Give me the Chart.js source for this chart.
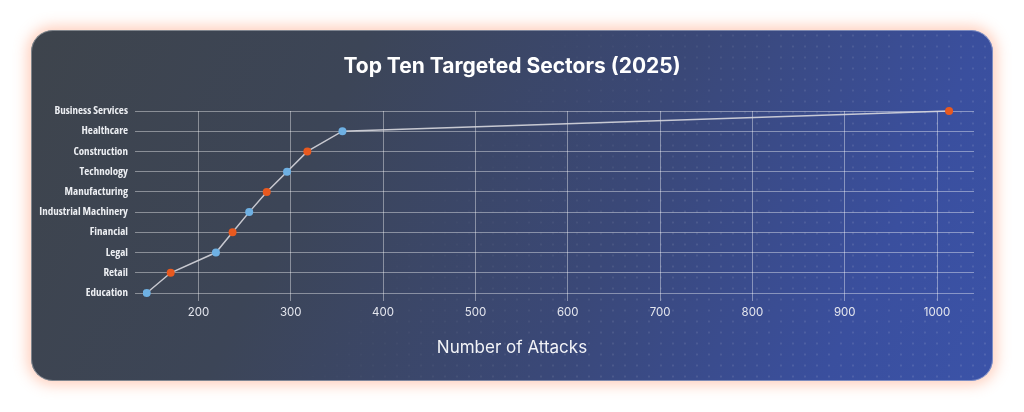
<!DOCTYPE html>
<html>
<head>
<meta charset="utf-8">
<script src="https://cdn.jsdelivr.net/npm/chart.js@4.4.1/dist/chart.umd.min.js"></script>
<style>
  html, body { margin: 0; padding: 0; background: #ffffff; width: 1024px; height: 412px; overflow: hidden; }
  #card {
    position: absolute; left: 31px; top: 30px; width: 962px; height: 351px;
    border-radius: 22px; overflow: hidden;
    background: linear-gradient(115deg, #3e444c 0%, #3c4557 30%, #3a4878 60%, #3a4f9e 85%, #3b53a8 100%);
    box-shadow: 0 0 14px 4px rgba(255, 150, 110, 0.45);
  }
  #card::before {
    content: ""; position: absolute; inset: 0; border-radius: 22px;
    border: 1px solid rgba(255,255,255,0.35); pointer-events: none; z-index: 3;
  }
  #dots {
    position: absolute; inset: 0;
    background-image: radial-gradient(circle, rgba(255,255,255,0.11) 0.9px, transparent 1.3px);
    background-size: 12px 11px;
    -webkit-mask-image: linear-gradient(125deg, transparent 0%, transparent 40%, rgba(0,0,0,0.8) 65%, #000 100%);
    mask-image: linear-gradient(125deg, transparent 0%, transparent 40%, rgba(0,0,0,0.8) 65%, #000 100%);
  }
  #wrap { position: absolute; left: 0; top: 0; width: 962px; height: 351px; z-index: 2; }
</style>
</head>
<body>
<div id="card">
  <div id="dots"></div>
  <div id="wrap"><canvas id="c" width="962" height="351"></canvas></div>
</div>
<script>
const sectors = ["Business Services", "Healthcare", "Construction", "Technology", "Manufacturing",
                 "Industrial Machinery", "Financial", "Legal", "Retail", "Education"];
const attacks = [1013, 356, 318, 296, 274, 255, 237, 219, 170, 144];
const xTicks = [200, 300, 400, 500, 600, 700, 800, 900, 1000];
const pointColors = ["#e8591f", "#6eb0e3", "#e8591f", "#6eb0e3", "#e8591f",
                     "#6eb0e3", "#e8591f", "#6eb0e3", "#e8591f", "#6eb0e3"];
const chartTitle = 'Top Ten Targeted Sectors (2025)';
const xTitle = 'Number of Attacks';

const centeredTexts = {
  id: 'centeredTexts',
  afterDraw(chart) {
    const ctx = chart.ctx;
    ctx.save();
    ctx.textAlign = 'center';
    ctx.textBaseline = 'middle';
    ctx.fillStyle = '#ffffff';
    ctx.font = '700 21px Inter';
    ctx.fillText(chartTitle, chart.width / 2, 37);
    ctx.fillStyle = '#f2f3f7';
    ctx.font = '17px Inter';
    ctx.fillText(xTitle, chart.width / 2, 318);
    ctx.restore();
  }
};

new Chart(document.getElementById('c'), {
  type: 'line',
  data: {
    labels: sectors,
    datasets: [{
      data: attacks,
      borderColor: 'rgba(215,215,222,0.9)',
      borderWidth: 1.5,
      pointBackgroundColor: pointColors,
      pointBorderColor: pointColors,
      pointRadius: 4,
      pointBorderWidth: 0,
      tension: 0,
      fill: false
    }]
  },
  plugins: [centeredTexts],
  options: {
    indexAxis: 'y',
    responsive: false,
    animation: false,
    devicePixelRatio: 1,
    layout: { padding: { left: 0, right: 19, top: 81, bottom: 0 } },
    plugins: {
      legend: { display: false },
      tooltip: { enabled: false },
      title: { display: false }
    },
    scales: {
      x: {
        type: 'linear',
        min: 140, max: 1040,
        afterBuildTicks: (s) => { s.ticks = xTicks.map(v => ({ value: v })); },
        afterFit: (s) => { s.height = 88; },
        grid: { color: 'rgba(255,255,255,0.4)', lineWidth: 1, tickLength: 8, drawTicks: true },
        border: { display: false },
        ticks: {
          color: '#e4e6ee',
          font: { family: 'Inter', size: 11.5 },
          padding: 5,
          maxRotation: 0,
          callback: (v) => String(v)
        }
      },
      y: {
        type: 'category',
        offset: false,
        afterFit: (s) => { s.width = 112; },
        grid: { color: 'rgba(255,255,255,0.4)', lineWidth: 1, tickLength: 8, drawTicks: true },
        border: { display: false },
        ticks: {
          color: '#eceef2',
          font: { family: "'Open Sans'", size: 11, weight: 'condensed bold' },
          padding: 7,
          autoSkip: false
        }
      }
    }
  }
});
</script>
</body>
</html>
